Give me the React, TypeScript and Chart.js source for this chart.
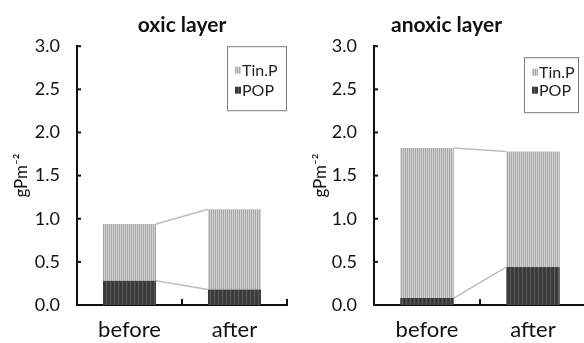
import React, { useEffect, useRef } from 'react';
import { Chart, registerables } from 'chart.js';
Chart.register(...registerables);

const categories = ['before', 'after'];
const oxicPOP = [0.28, 0.18];
const oxicTinP = [0.66, 0.93];
const anoxicPOP = [0.08, 0.44];
const anoxicTinP = [1.74, 1.34];
const yTickLabels = ['0.0', '0.5', '1.0', '1.5', '2.0', '2.5', '3.0'];
const seriesNames = ['POP', 'Tin.P'];
const yTitle = 'gPm⁻²';

function makePattern(colors: string[]) {
  const c = document.createElement('canvas');
  c.width = colors.length;
  c.height = 1;
  const g = c.getContext('2d')!;
  colors.forEach((col, i) => {
    g.fillStyle = col;
    g.fillRect(i, 0, 1, 1);
  });
  return g.createPattern(c, 'repeat')!;
}

const connectors = {
  id: 'connectors',
  afterDatasetsDraw(chart: any) {
    const ctx = chart.ctx;
    ctx.save();
    ctx.strokeStyle = '#bdbdbd';
    ctx.lineWidth = 1.5;
    chart.data.datasets.forEach((_: any, d: number) => {
      const bars = chart.getDatasetMeta(d).data;
      for (let i = 0; i < bars.length - 1; i++) {
        const a = bars[i];
        const b = bars[i + 1];
        ctx.beginPath();
        ctx.moveTo(a.x + a.width / 2, a.y);
        ctx.lineTo(b.x - b.width / 2, b.y);
        ctx.stroke();
      }
    });
    ctx.restore();
  },
};

const innerTicks = {
  id: 'innerTicks',
  afterDraw(chart: any) {
    const ctx = chart.ctx;
    const { left, bottom } = chart.chartArea;
    const y = chart.scales.y;
    const x = chart.scales.x;
    ctx.save();
    ctx.strokeStyle = '#111';
    ctx.lineWidth = 2;
    y.ticks.forEach((t: any) => {
      const py = y.getPixelForValue(t.value);
      ctx.beginPath();
      ctx.moveTo(left, py);
      ctx.lineTo(left + 4, py);
      ctx.stroke();
    });
    const n = chart.data.labels.length;
    const cw = x.getPixelForValue(1) - x.getPixelForValue(0);
    for (let i = 0; i < n; i++) {
      const px = x.getPixelForValue(i) + cw / 2;
      ctx.beginPath();
      ctx.moveTo(px, bottom);
      ctx.lineTo(px, bottom - 6);
      ctx.stroke();
    }
    ctx.restore();
  },
};

const panelLegend = {
  id: 'panelLegend',
  afterDraw(chart: any, _args: any, opts: any) {
    const ctx = chart.ctx;
    const area = chart.chartArea;
    const bx = area.right - opts.right - opts.w;
    const by = area.top + opts.top;
    ctx.save();
    ctx.fillStyle = '#fff';
    ctx.fillRect(bx, by, opts.w, opts.h);
    ctx.strokeStyle = '#7a7a7a';
    ctx.lineWidth = 1;
    ctx.strokeRect(bx + 0.5, by + 0.5, opts.w, opts.h);
    const order = [1, 0];
    order.forEach((d, r) => {
      const ds = chart.data.datasets[d];
      const cy = by + opts.rows[r];
      ctx.fillStyle = ds.backgroundColor;
      ctx.fillRect(bx + 8, cy - 3.5, 6, 7);
      ctx.fillStyle = '#222';
      ctx.font = '16px Lato';
      ctx.textBaseline = 'middle';
      ctx.textAlign = 'left';
      ctx.fillText(ds.label, bx + 15, cy + 1);
    });
    ctx.restore();
  },
};

type PanelProps = {
  title: string;
  pop: number[];
  tinp: number[];
  width: number;
  left: number;
  padding: any;
  yWidth: number;
  titleFull: boolean;
  legend: any;
};

function Panel(p: PanelProps) {
  const ref = useRef<HTMLCanvasElement>(null);
  useEffect(() => {
    const canvas = ref.current!;
    const light = makePattern(['#d4d4d4', '#a6a6a6']);
    const dark = makePattern(['#3a3a3a', '#3a3a3a', '#5c5c5c', '#3a3a3a']);
    const chart = new Chart(canvas, {
      type: 'bar',
      data: {
        labels: categories,
        datasets: [
          { label: seriesNames[0], data: p.pop, backgroundColor: dark as any, stack: 's', categoryPercentage: 0.505, barPercentage: 1 },
          { label: seriesNames[1], data: p.tinp, backgroundColor: light as any, stack: 's', categoryPercentage: 0.505, barPercentage: 1 },
        ],
      },
      options: {
        responsive: false,
        animation: false,
        layout: { padding: p.padding },
        plugins: {
          legend: { display: false },
          tooltip: { enabled: false },
          title: {
            display: true,
            text: p.title,
            fullSize: p.titleFull,
            color: '#111',
            font: { family: 'Lato', size: 21, weight: 'bold' },
            padding: { top: 13, bottom: 8 },
          },
          panelLegend: p.legend,
        } as any,
        scales: {
          x: {
            stacked: true,
            grid: { display: false, drawTicks: false },
            border: { display: true, color: '#111', width: 2 },
            ticks: { color: '#111', font: { family: 'Lato', size: 22 }, padding: 12 },
            afterFit: (s: any) => { s.height = 38; },
          },
          y: {
            stacked: true,
            min: 0,
            max: 3,
            grid: { display: false, drawTicks: false },
            border: { display: true, color: '#111', width: 2 },
            ticks: {
              stepSize: 0.5,
              color: '#111',
              font: { family: 'Lato', size: 18 },
              padding: 17,
              callback: (_v: any, i: number) => yTickLabels[i],
            },
            title: {
              display: true,
              text: yTitle,
              color: '#111',
              font: { family: 'Lato', size: 17 },
              padding: { top: 3, bottom: 0 },
            },
            afterFit: (s: any) => { s.width = p.yWidth; },
          },
        },
      },
      plugins: [connectors, innerTicks, panelLegend],
    });
    return () => chart.destroy();
  }, []);
  return (
    <canvas
      ref={ref}
      width={p.width}
      height={343}
      style={{ position: 'absolute', left: p.left, top: 0, width: p.width, height: 343 }}
    />
  );
}

export default function App() {
  return (
    <div style={{ position: 'fixed', left: 0, top: 0, width: 584, height: 343, overflow: 'hidden', background: '#fff' }}>
      <Panel
        title="oxic layer"
        pop={oxicPOP}
        tinp={oxicTinP}
        width={292}
        left={0}
        padding={{ left: 8, right: 5, top: 0, bottom: 0 }}
        yWidth={69}
        titleFull={false}
        legend={{ right: 1, top: 0, w: 59, h: 64, rows: [24, 44] }}
      />
      <Panel
        title="anoxic layer"
        pop={anoxicPOP}
        tinp={anoxicTinP}
        width={340}
        left={292}
        padding={{ left: 15, right: 46, top: 0, bottom: 0 }}
        yWidth={67}
        titleFull={true}
        legend={{ right: 8, top: 11, w: 54, h: 55, rows: [15, 33] }}
      />
    </div>
  );
}
